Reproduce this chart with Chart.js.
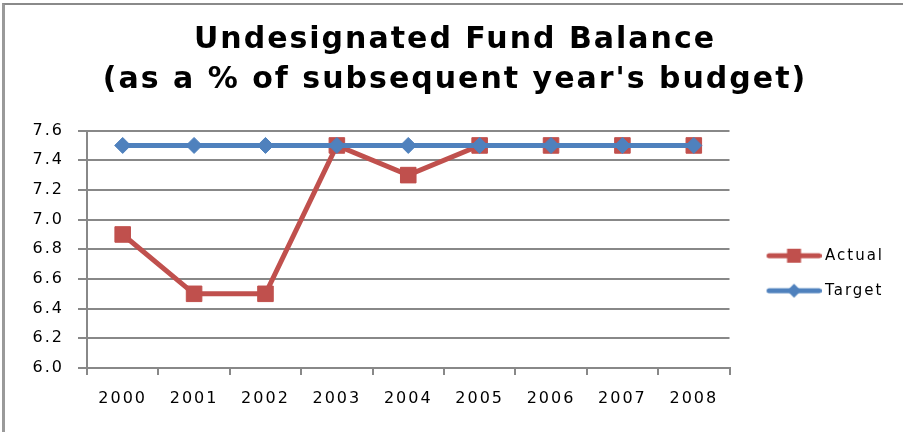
<!DOCTYPE html>
<html>
<head>
<meta charset="utf-8">
<script src="https://cdn.jsdelivr.net/npm/chart.js@4.4.0/dist/chart.umd.min.js"></script>
<style>
html, body { margin: 0; padding: 0; background: #fff; overflow: hidden; }
#wrap { position: relative; width: 903px; height: 432px; }
#frame { position: absolute; left: 2px; top: 3px; width: 1000px; height: 1000px;
         border-left: 3px solid #9a9a9a; border-top: 2px solid #8a8a8a; pointer-events: none; }
canvas { position: absolute; left: 0; top: 0; }
</style>
</head>
<body>
<div id="wrap">
  <canvas id="dataChart" width="903" height="432"></canvas>
  <div id="frame"></div>
</div>
<script>
// chart data
var years = ["2000", "2001", "2002", "2003", "2004", "2005", "2006", "2007", "2008"];
var actualValues = [6.9, 6.5, 6.5, 7.5, 7.3, 7.5, 7.5, 7.5, 7.5];
var targetValues = [7.5, 7.5, 7.5, 7.5, 7.5, 7.5, 7.5, 7.5, 7.5];
var yTickValues = [6.0, 6.2, 6.4, 6.6, 6.8, 7.0, 7.2, 7.4, 7.6];

var red = "#C0504D";
var blue = "#4F81BD";
var gridGray = "#888888";

// legend icon: a short line with the marker in the middle
function legendIcon(color, shape) {
	var c = document.createElement("canvas");
	c.width = 76;
	c.height = 20;
	var g = c.getContext("2d");
	g.strokeStyle = color;
	g.fillStyle = color;
	g.lineWidth = 5;
	g.lineCap = "round";
	g.beginPath();
	g.moveTo(23.5, 10);
	g.lineTo(73.5, 10);
	g.stroke();
	var cx = 48.5;
	g.beginPath();
	if (shape == "square") {
		g.rect(cx - 7, 3, 14, 14);
	} else {
		g.moveTo(cx - 7, 10);
		g.lineTo(cx, 3);
		g.lineTo(cx + 7, 10);
		g.lineTo(cx, 17);
		g.closePath();
	}
	g.fill();
	return c;
}
var icons = [legendIcon(red, "square"), legendIcon(blue, "diamond")];

// wider letter spacing, like the stretched original text
var spacing = {
	id: "spacing",
	beforeLayout: function (chart) { chart.ctx.letterSpacing = "2px"; },
	beforeDraw: function (chart) { chart.ctx.letterSpacing = "2px"; }
};

var tickFont = { family: "DejaVu Sans", size: 16 };

var ctx = document.getElementById("dataChart");

var chart = new Chart(ctx, {
	type: 'line',
	data: {
		labels: years,
		datasets: [{
			label: "Actual",
			data: actualValues,
			borderColor: red,
			backgroundColor: red,
			borderWidth: 5,
			pointStyle: "rect",
			pointRadius: 11,
			pointHoverRadius: 11,
			pointBorderWidth: 1,
			tension: 0,
			order: 1
			},
			{
			label: "Target",
			data: targetValues,
			borderColor: blue,
			backgroundColor: blue,
			borderWidth: 5,
			pointStyle: "rectRot",
			pointRadius: 8,
			pointHoverRadius: 8,
			pointBorderWidth: 1,
			tension: 0,
			order: 0
			}]
	},
	options: {
		responsive: false,
		animation: false,
		layout: { padding: { left: 16, right: 9, top: 0, bottom: 0 } },
		plugins: {
			title: {
				display: true,
				text: ["Undesignated Fund Balance", "(as a % of subsequent year's budget)"],
				color: "#000",
				font: { family: "DejaVu Sans", size: 30, weight: "bold", lineHeight: 1.31 },
				padding: { top: 21, bottom: 31 }
			},
			legend: {
				position: "right",
				title: { display: true, text: " ", font: { size: 12 }, padding: { top: 100, bottom: 0 } },
				labels: {
					usePointStyle: true,
					pointStyleWidth: 68,
					padding: 20,
					color: "#000",
					font: { family: "DejaVu Sans", size: 15 },
					sort: function (a, b) { return a.datasetIndex - b.datasetIndex; },
					generateLabels: function (c) {
						var items = Chart.defaults.plugins.legend.labels.generateLabels(c);
						items.forEach(function (it) { it.pointStyle = icons[it.datasetIndex]; });
						return items;
					}
				}
			},
			tooltip: { enabled: false }
		},
		scales: {
			x: {
				offset: true,
				grid: { offset: true, drawOnChartArea: false, drawTicks: true, tickLength: 7, color: gridGray, lineWidth: 2 },
				border: { color: gridGray, width: 2 },
				ticks: { font: tickFont, color: "#000", padding: 14, maxRotation: 0 },
				afterFit: function (s) { s.height = 64; }
			},
			y: {
				min: 6,
				max: 7.6,
				grid: { color: gridGray, lineWidth: 2, tickLength: 9 },
				border: { color: gridGray, width: 2 },
				ticks: {
					font: tickFont,
					color: "#000",
					padding: 14,
					callback: function (v) { return Number(v).toFixed(1); }
				},
				afterBuildTicks: function (s) {
					s.ticks = yTickValues.map(function (v) { return { value: v }; });
				},
				afterFit: function (s) { s.width = 71; }
			}
		}
	},
	plugins: [spacing]
});
</script>
</body>
</html>
